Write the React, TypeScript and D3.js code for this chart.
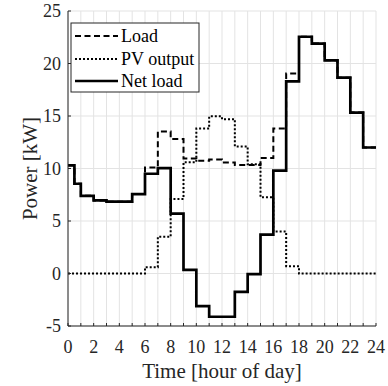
import React from "react";
import * as d3 from "d3";

// Step start times (hours). The first hour is split into two half-hour steps.
const stepStart = [0, 0.5, 1, 2, 3, 4, 5, 6, 7, 8, 9, 10, 11, 12, 13, 14, 15, 16, 17, 18, 19, 20, 21, 22, 23];
const endHour = 24;

const loadValues = [10.3, 8.55, 7.4, 6.96, 6.84, 6.84, 7.56, 10.1, 13.53, 12.8, 10.95, 10.75, 10.85, 10.58, 10.33, 10.33, 11.0, 13.8, 19.05, 22.55, 21.9, 20.3, 18.65, 15.33, 12.0];
const pvValues = [0, 0, 0, 0, 0, 0, 0, 0.6, 3.5, 7.1, 10.6, 13.8, 14.97, 14.7, 12.1, 10.4, 7.27, 4.0, 0.7, 0, 0, 0, 0, 0, 0];
const netValues = [10.3, 8.55, 7.4, 6.96, 6.84, 6.84, 7.56, 9.5, 10.03, 5.7, 0.35, -3.1, -4.12, -4.12, -1.75, -0.05, 3.7, 9.8, 18.3, 22.55, 21.9, 20.3, 18.65, 15.33, 12.0];

const xTickLabels = [0, 2, 4, 6, 8, 10, 12, 14, 16, 18, 20, 22, 24];
const xMinorTicks = d3.range(0, 25, 1);
const yTicks = [-5, 0, 5, 10, 15, 20, 25];

const seriesNames = ["Load", "PV output", "Net load"];

const W = 388;
const H = 386;
const left = 68;
const right = 376;
const top = 11;
const bottom = 326;
const font = "'Liberation Serif', 'Times New Roman', serif";

export default function App() {
  const x = d3.scaleLinear().domain([0, 24]).range([left, right]);
  const y = d3.scaleLinear().domain([-5, 25]).range([bottom, top]);

  const toPts = (vals: number[]) => {
    const pts: [number, number][] = stepStart.map((t, i) => [t, vals[i]]);
    pts.push([endHour, vals[vals.length - 1]]);
    return pts;
  };
  const line = d3
    .line<[number, number]>()
    .x((d) => x(d[0]))
    .y((d) => y(d[1]))
    .curve(d3.curveStepAfter);

  const styles = [
    { dash: "6,3.5", width: 2, color: "#000" },
    { dash: "2,2", width: 2, color: "#000" },
    { dash: "none", width: 2.7, color: "#000" },
  ];
  const data = [loadValues, pvValues, netValues];

  const legX = 71;
  const legY = 23;
  const legW = 128;
  const legH = 69;
  const rowY = [36, 59, 81];

  return (
    <svg width={W} height={H} style={{ position: "absolute", left: 0, top: 0, background: "#fff" }}>
      <rect x={0} y={0} width={W} height={H} fill="#fff" />
      {/* grid */}
      {xMinorTicks.map((t) => (
        <line key={"gx" + t} x1={x(t)} x2={x(t)} y1={top} y2={bottom} stroke="#e3e3e3" strokeWidth={1} />
      ))}
      {yTicks.map((t) => (
        <line key={"gy" + t} x1={left} x2={right} y1={y(t)} y2={y(t)} stroke="#e3e3e3" strokeWidth={1} />
      ))}
      {/* series */}
      {data.map((vals, i) => (
        <path
          key={"s" + i}
          d={line(toPts(vals)) || ""}
          fill="none"
          stroke={styles[i].color}
          strokeWidth={styles[i].width}
          strokeDasharray={styles[i].dash}
          strokeLinejoin="miter"
        />
      ))}
      {/* axes */}
      <line x1={left} x2={left} y1={top} y2={bottom} stroke="#262626" strokeWidth={1} />
      <line x1={left} x2={right} y1={bottom} y2={bottom} stroke="#262626" strokeWidth={1.2} />
      {xMinorTicks.map((t) => (
        <line key={"tx" + t} x1={x(t)} x2={x(t)} y1={bottom} y2={bottom - 3} stroke="#262626" strokeWidth={1} />
      ))}
      {yTicks.map((t) => (
        <line key={"ty" + t} x1={left} x2={left + 3} y1={y(t)} y2={y(t)} stroke="#262626" strokeWidth={1} />
      ))}
      {xTickLabels.map((t) => (
        <text key={"lx" + t} x={x(t)} y={353} textAnchor="middle" fontFamily={font} fontSize={18} fill="#262626">
          {t}
        </text>
      ))}
      {yTicks.map((t) => (
        <text key={"ly" + t} x={61} y={y(t) + 6} textAnchor="end" fontFamily={font} fontSize={18} fill="#262626">
          {t}
        </text>
      ))}
      <text x={(left + right) / 2} y={378} textAnchor="middle" fontFamily={font} fontSize={21} fill="#262626">
        Time [hour of day]
      </text>
      <text
        transform={`translate(37, ${(top + bottom) / 2}) rotate(-90)`}
        textAnchor="middle"
        fontFamily={font}
        fontSize={21}
        fill="#262626"
      >
        Power [kW]
      </text>
      {/* legend */}
      <rect x={legX} y={legY} width={legW} height={legH} fill="#fff" stroke="#262626" strokeWidth={1} />
      {seriesNames.map((name, i) => (
        <g key={"lg" + i}>
          <line
            x1={75}
            x2={118}
            y1={rowY[i]}
            y2={rowY[i]}
            stroke="#000"
            strokeWidth={styles[i].width}
            strokeDasharray={styles[i].dash}
          />
          <text x={121} y={rowY[i] + 6} fontFamily={font} fontSize={18} fill="#000">
            {name}
          </text>
        </g>
      ))}
    </svg>
  );
}
